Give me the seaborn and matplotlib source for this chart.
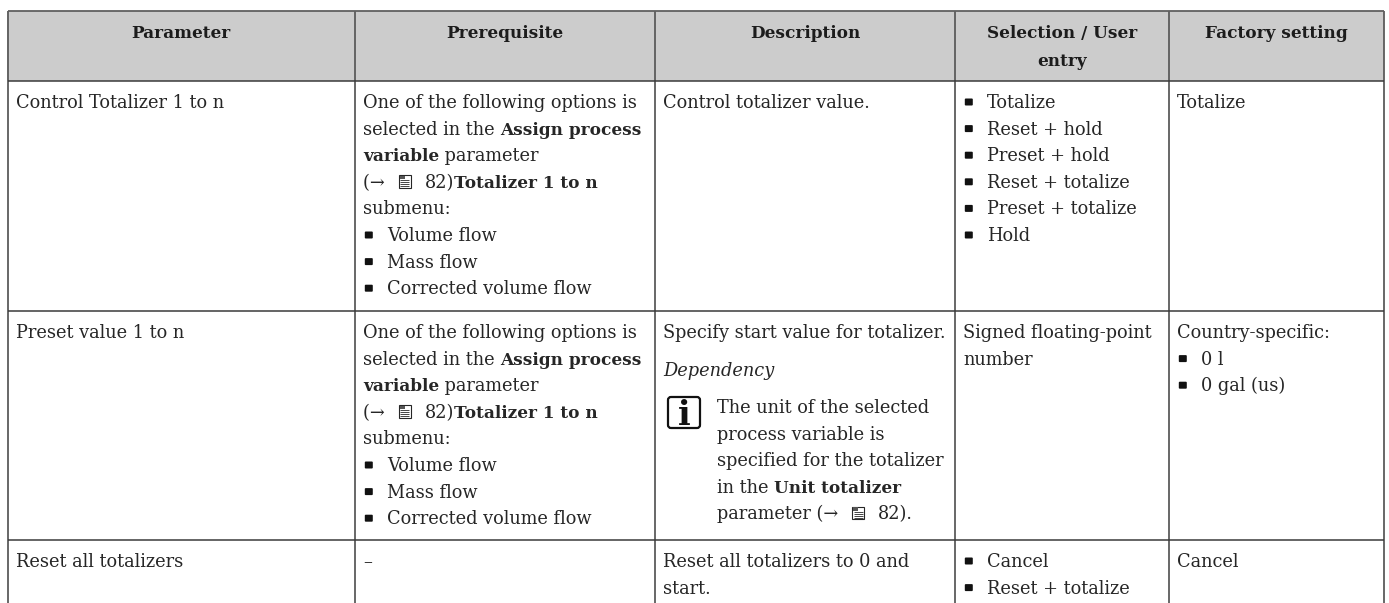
import numpy as np
import seaborn as sns
from matplotlib import pyplot as plt
from matplotlib.colors import ListedColormap
from matplotlib.patches import FancyBboxPatch, Rectangle

W, H = 1389, 603
BODY_SIZE = 12.75
BOLD_SIZE = 12.2
HEAD_SIZE = 12.2
FAMILY = ['DejaVu Serif']

# table content
headers = ["Parameter", "Prerequisite", "Description", ["Selection / User", "entry"], "Factory setting"]
prereq = [[("One of the following options is", "n")],
          [("selected in the ", "n"), ("Assign process", "b")],
          [("variable", "b"), (" parameter", "n")],
          [("(→ ", "n"), ("", "page"), ("82)", "n"), ("Totalizer 1 to n", "b")],
          [("submenu:", "n")],
          [("• Volume flow", "n")],
          [("• Mass flow", "n")],
          [("• Corrected volume flow", "n")]]
selection_1 = ["• Totalize", "• Reset + hold", "• Preset + hold", "• Reset + totalize", "• Preset + totalize", "• Hold"]
selection_2 = ["Signed floating-point", "number"]
selection_3 = ["• Cancel", "• Reset + totalize"]
factory_2 = ["Country-specific:", "• 0 l", "• 0 gal (us)"]
note = [[("The unit of the selected", "n")],
        [("process variable is", "n")],
        [("specified for the totalizer", "n")],
        [("in the ", "n"), ("Unit totalizer", "b")],
        [("parameter (→ ", "n"), ("", "page"), ("82).", "n")]]

# table geometry in pixels
col_x = [7.5, 355, 655, 955, 1169, 1383.5]
row_y = [11, 81, 311, 540]
PITCH = 26.6

sns.set_theme(style="white")
plt.rcParams['font.family'] = FAMILY

fig = plt.figure(figsize=(W / 100, H / 100), dpi=100, facecolor="white")

# header band
hax = fig.add_axes([col_x[0] / W, 1 - row_y[1] / H, (col_x[-1] - col_x[0]) / W, (row_y[1] - row_y[0]) / H])
sns.heatmap(np.zeros((1, 1)), cmap=ListedColormap(["#cccccc"]), cbar=False, xticklabels=False, yticklabels=False, ax=hax)

ax = fig.add_axes([0, 0, 1, 1])
ax.set_xlim(0, W)
ax.set_ylim(H, 0)
ax.axis("off")
ax.patch.set_alpha(0)

ax.vlines(col_x, row_y[0], H, color="#5c5c5c", lw=1.3)
ax.hlines(row_y[0], col_x[0], col_x[-1], color="#606060", lw=1.3)
ax.hlines(row_y[1:], col_x[0], col_x[-1], color="#3a3a3a", lw=1.1)

renderer = fig.canvas.get_renderer()
TEXT_COL = "#262626"


def style(kind):
    return dict(fontsize=BOLD_SIZE if kind == "b" else BODY_SIZE, color=TEXT_COL,
                fontweight="bold" if kind == "b" else "normal",
                fontstyle="italic" if kind == "i" else "normal", family=FAMILY)


def width(s, kind):
    # measure with a closing dot so that trailing spaces are counted
    t = ax.text(0, 0, s + ".", **style(kind))
    a = t.get_window_extent(renderer).width
    t.set_text(".")
    b = t.get_window_extent(renderer).width
    t.remove()
    return a - b


def page_icon(x, base):
    left = x + 8
    ax.add_patch(Rectangle((left, base - 12.5), 12, 12.5, fc="white", ec=TEXT_COL, lw=0.8))
    ax.add_patch(Rectangle((left + 1, base - 12), 5, 3.5, fc="#555555", ec="none"))
    ax.hlines([base - 7.5, base - 5.5, base - 3.5, base - 1.5], left + 1.5, left + 10.5, color=TEXT_COL, lw=0.6)
    return 34


def put_runs(x, base, runs):
    for s, kind in runs:
        if kind == "page":
            x += page_icon(x, base)
            continue
        ax.text(x, base, s, va="baseline", ha="left", **style(kind))
        x += width(s, kind)


def put_line(x, base, s, indent=23.5):
    if s.startswith("• "):
        ax.add_patch(FancyBboxPatch((x + 2.5, base - 8.5), 6, 5, boxstyle="round,pad=1", fc="#111111", ec="none"))
        x += indent
        s = s[2:]
    ax.text(x, base, s, va="baseline", ha="left", **style("n"))


# header row
for i, h in enumerate(headers):
    cx = (col_x[i] + col_x[i + 1]) / 2
    lines = h if isinstance(h, list) else [h]
    for j, s in enumerate(lines):
        ax.text(cx, 38.5 + j * 27.5, s, ha="center", va="baseline", fontsize=HEAD_SIZE, fontweight="bold",
                color="#1c1c1c", family=FAMILY)

tx = [c + 8.3 for c in col_x]
base_1 = row_y[1] + 27
base_2 = row_y[2] + 27
base_3 = row_y[3] + 27

# row 1
put_line(tx[0], base_1, "Control Totalizer 1 to n")
for j, runs in enumerate(prereq):
    if runs[0][0].startswith("•"):
        put_line(tx[1], base_1 + j * PITCH, runs[0][0])
    else:
        put_runs(tx[1], base_1 + j * PITCH, runs)
put_line(tx[2], base_1, "Control totalizer value.")
for j, s in enumerate(selection_1):
    put_line(tx[3], base_1 + j * PITCH, s)
put_line(tx[4], base_1, "Totalize")

# row 2
put_line(tx[0], base_2, "Preset value 1 to n")
for j, runs in enumerate(prereq):
    if runs[0][0].startswith("•"):
        put_line(tx[1], base_2 + j * PITCH, runs[0][0])
    else:
        put_runs(tx[1], base_2 + j * PITCH, runs)
put_line(tx[2], base_2, "Specify start value for totalizer.")
put_runs(tx[2], base_2 + 38, [("Dependency", "i")])
ax.add_patch(FancyBboxPatch((tx[2] + 4.7, base_2 + 59), 32, 31, boxstyle="round,pad=0,rounding_size=3",
                            fc="white", ec="#111111", lw=1.6))
ax.text(tx[2] + 20.7, base_2 + 87, "i", ha="center", va="baseline", fontsize=24, fontweight="bold",
        color="#111111", family="DejaVu Serif")
for j, runs in enumerate(note):
    put_runs(tx[2] + 54, base_2 + 75 + j * PITCH, runs)
for j, s in enumerate(selection_2):
    put_line(tx[3], base_2 + j * PITCH, s)
for j, s in enumerate(factory_2):
    put_line(tx[4], base_2 + j * PITCH, s)

# row 3, cut by the page edge
put_line(tx[0], base_3, "Reset all totalizers")
put_line(tx[1], base_3, "–")
put_line(tx[2], base_3, "Reset all totalizers to 0 and")
put_line(tx[2], base_3 + PITCH, "start.")
for j, s in enumerate(selection_3):
    put_line(tx[3], base_3 + j * PITCH, s)
put_line(tx[4], base_3, "Cancel")

fig.savefig("out.png", dpi=100)
